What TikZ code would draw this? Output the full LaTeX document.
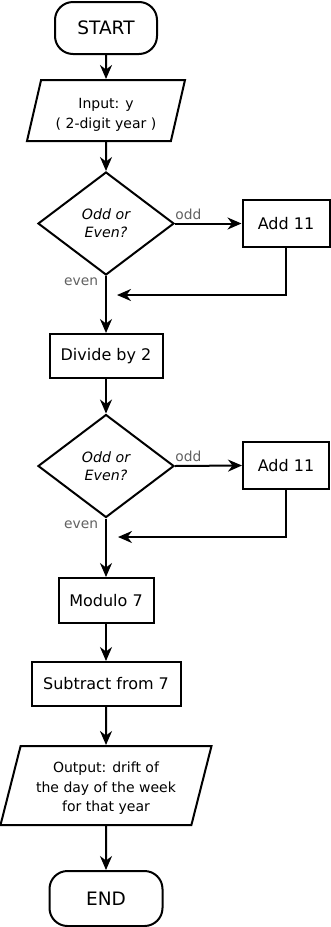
\documentclass[tikz,border=0pt]{standalone}
\usepackage{fontspec}
\setmainfont{DejaVu Sans}
\usetikzlibrary{positioning,shapes.geometric,arrows.meta}

\begin{document}
\begin{tikzpicture}[
  x=1pt, y=-1pt,
  line width=2pt,
  >={Stealth[length=14pt,width=12pt,inset=4.5pt]},
  terminal/.style={draw, rounded corners=18pt, font=\fontsize{18.5}{22}\selectfont, inner sep=0pt},
  iobox/.style={draw, trapezium, trapezium left angle=71, trapezium right angle=109, trapezium stretches body,
    align=center, font=\fontsize{14}{19.5}\selectfont, inner sep=0pt},
  decision/.style={draw, diamond, aspect=1.32, inner sep=0pt, minimum width=136pt, minimum height=103pt,
    align=center, font=\fontsize{14.2}{18}\selectfont\itshape},
  process/.style={draw, font=\fontsize{16}{19}\selectfont, inner sep=0pt},
  lbl/.style={text=black!62, font=\fontsize{13.8}{16}\selectfont, inner sep=2pt}
]
\useasboundingbox (0,0) rectangle (330,927);

\node[terminal, minimum width=102pt, minimum height=52pt] (start) at (106,28) {START};

\node[iobox, minimum width=158pt, minimum height=61pt] (input) at (106,110.5)
  {\rule{0pt}{18.5pt}Input: y\\( 2-digit year )};

\node[decision] (oddeven1) at (106,223.5) {Odd or\\Even?};
\node[process, minimum width=87pt, minimum height=47pt] (add1) at (286,223.5) {Add 11};
\coordinate (join1) at (117,295);

\node[process, minimum width=113pt, minimum height=44pt] (divide) at (106,356) {Divide by 2};

\node[decision] (oddeven2) at (106,466) {Odd or\\Even?};
\node[process, minimum width=86pt, minimum height=47pt] (add2) at (286,465.5) {Add 11};
\coordinate (join2) at (118,537);

\node[process, minimum width=95pt, minimum height=45pt] (modulo) at (106,600.5) {Modulo 7};

\node[process, minimum width=149pt, minimum height=44pt] (subtract) at (106,684) {Subtract from 7};

\node[iobox, minimum width=211pt, minimum height=79pt] (output) at (106,785.5)
  {\rule{0pt}{16.5pt}Output: drift of\\the day of the week\\for that year};

\node[terminal, minimum width=113pt, minimum height=55pt] (end) at (106,898.5) {END};

\draw[->] (start.south) -- (input.north);
\draw[->] (input.south) -- (oddeven1.north);
\draw[->] (oddeven1.east) -- node[lbl, pos=0.2, above=1pt] {odd} (add1.west);
\draw[->] (add1.south) |- (join1);
\draw[->] (oddeven1.south) -- node[lbl, pos=0.1, left=5pt] {even} (divide.north);
\draw[->] (divide.south) -- (oddeven2.north);
\draw[->] (oddeven2.east) -- node[lbl, pos=0.2, above=1pt] {odd} (add2.west);
\draw[->] (add2.south) |- (join2);
\draw[->] (oddeven2.south) -- node[lbl, pos=0.1, left=5pt] {even} (modulo.north);
\draw[->] (modulo.south) -- (subtract.north);
\draw[->] (subtract.south) -- (output.north);
\draw[->] (output.south) -- (end.north);
\end{tikzpicture}
\end{document}
